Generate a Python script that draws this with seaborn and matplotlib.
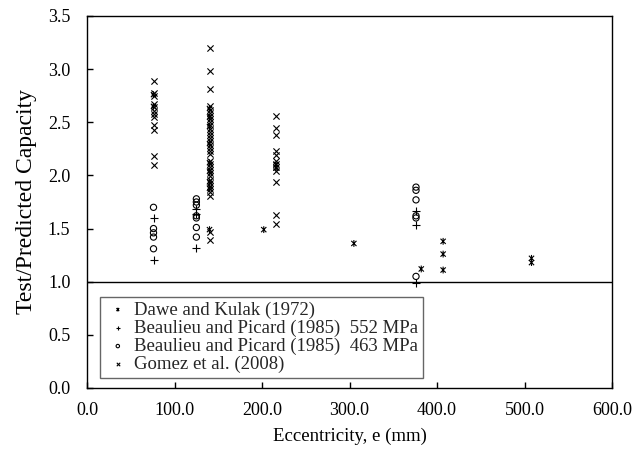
import matplotlib
matplotlib.use("Agg")
import matplotlib.pyplot as plt
import seaborn as sns
import numpy as np
from matplotlib.path import Path
from matplotlib.ticker import FormatStrFormatter

# ---------------- data ----------------
dawe_e = [76, 76, 140, 140, 140, 140, 140, 140, 140, 140, 140,
          202, 216, 216, 305, 382, 407, 407, 407, 508, 508]
dawe_r = [2.76, 2.65, 2.63, 2.55, 2.46, 2.30, 2.12, 2.04, 1.94, 1.88, 1.49,
          1.49, 2.10, 2.07, 1.36, 1.12, 1.38, 1.26, 1.11, 1.22, 1.18]

bp552_e = [76, 76, 125, 125, 125, 376, 376, 376]
bp552_r = [1.60, 1.20, 1.68, 1.64, 1.32, 1.67, 1.53, 0.99]

bp463_e = [76, 76, 76, 76, 76, 125, 125, 125, 125, 125, 125, 125,
           376, 376, 376, 376, 376, 376]
bp463_r = [1.70, 1.50, 1.46, 1.42, 1.31, 1.78, 1.75, 1.72, 1.62, 1.60, 1.51, 1.42,
           1.89, 1.86, 1.77, 1.62, 1.60, 1.05]

gomez_e = [76] * 12 + [140] * 33 + [216] * 12
gomez_r = [2.89, 2.78, 2.75, 2.67, 2.64, 2.61, 2.58, 2.55, 2.47, 2.43, 2.18, 2.10,
           3.20, 2.98, 2.81, 2.65, 2.62, 2.59, 2.56, 2.53, 2.50, 2.47, 2.44, 2.41,
           2.38, 2.35, 2.32, 2.29, 2.26, 2.23, 2.20, 2.14, 2.11, 2.08, 2.05, 2.02,
           1.99, 1.96, 1.93, 1.90, 1.87, 1.84, 1.81, 1.47, 1.39,
           2.56, 2.45, 2.38, 2.23, 2.19, 2.14, 2.11, 2.08, 2.04, 1.94, 1.63, 1.54]

labels = ["Dawe and Kulak (1972)",
          "Beaulieu and Picard (1985)  552 MPa",
          "Beaulieu and Picard (1985)  463 MPa",
          "Gomez et al. (2008)"]

x_ticks = [0, 100, 200, 300, 400, 500, 600]
y_ticks = [0.0, 0.5, 1.0, 1.5, 2.0, 2.5, 3.0, 3.5]

# ---------------- style ----------------
sns.set_theme(style="white")
plt.rcParams['font.family'] = ['Liberation Serif', 'DejaVu Serif']
FS = 13
plt.rcParams['font.size'] = FS

fig = plt.figure(figsize=(6.36, 4.55), dpi=100)
ax = fig.add_axes([87/636, 1-388/455, (612-87)/636, (388-16)/455])

# asterisk marker: x with a vertical bar
ast = Path([(-1, -1), (1, 1), (-1, 1), (1, -1), (0, -1.3), (0, 1.3)],
           [Path.MOVETO, Path.LINETO, Path.MOVETO, Path.LINETO, Path.MOVETO, Path.LINETO])

sns.scatterplot(x=dawe_e, y=dawe_r, marker=ast, s=24, color="black",
                facecolor="none", edgecolor="black", linewidth=0.8,
                ax=ax, label=labels[0], zorder=3)
sns.scatterplot(x=bp552_e, y=bp552_r, marker="+", s=30, color="black",
                linewidth=0.8, ax=ax, label=labels[1], zorder=3)
sns.scatterplot(x=bp463_e, y=bp463_r, marker="o", s=20, color="black",
                facecolor="none", edgecolor="black", linewidth=0.8,
                ax=ax, label=labels[2], zorder=3)
sns.scatterplot(x=gomez_e, y=gomez_r, marker="x", s=20, color="black",
                linewidth=0.8, ax=ax, label=labels[3], zorder=3)

ax.axhline(1.0, color="black", linewidth=1.0, zorder=2)

ax.set_xlim(0, 600)
ax.set_ylim(0, 3.5)
ax.set_xticks(x_ticks)
ax.set_yticks(y_ticks)
ax.xaxis.set_major_formatter(FormatStrFormatter("%.1f"))
ax.yaxis.set_major_formatter(FormatStrFormatter("%.1f"))
ax.tick_params(axis="both", direction="in", length=4, width=1, color="black",
               labelsize=FS, labelcolor="black", bottom=True, left=True,
               top=False, right=False)
ax.tick_params(axis="x", pad=10)
ax.tick_params(axis="y", pad=12)
for sp in ax.spines.values():
    sp.set_color("black")
    sp.set_linewidth(1.0)
ax.grid(False)

ax.set_xlabel("Eccentricity, e (mm)", fontsize=13.5, color="black", labelpad=6)
ax.set_ylabel("Test/Predicted Capacity", fontsize=17, color="black", labelpad=8)

leg = ax.legend(loc="lower left", bbox_to_anchor=(13/525, 10/372),
                frameon=True, fancybox=False, edgecolor="#404040",
                fontsize=13.5, markerscale=0.55, handlelength=1.4,
                handletextpad=0.15, borderpad=0.25, labelspacing=0.05,
                borderaxespad=0)
leg.get_frame().set_linewidth(1.0)

fig.savefig("out.png", dpi=100)
